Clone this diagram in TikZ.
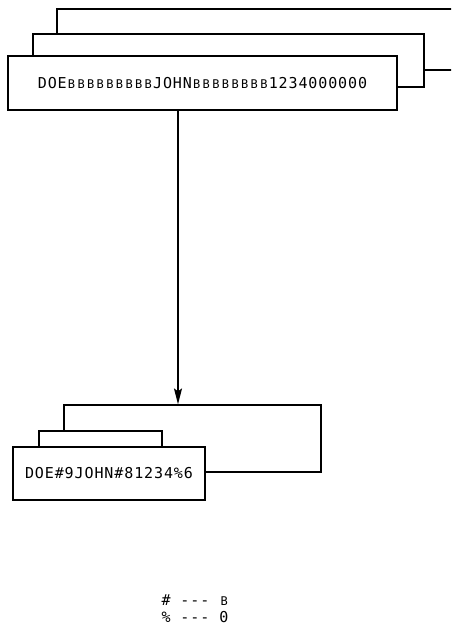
\documentclass[tikz,border=0pt]{standalone}
\usepackage{fontspec}
\newfontfamily\recfont[LetterSpace=6]{DejaVu Sans Mono}
\usetikzlibrary{arrows.meta}
\newcommand{\bb}{\makebox[9.6pt]{\fontsize{12}{12}\selectfont B}}
\tikzset{
  card/.style={draw=black, line width=1.2pt, fill=white, rectangle, inner sep=0pt},
  rectext/.style={font=\recfont\fontsize{15}{15}\selectfont},
  link/.style={draw=black, line width=1.5pt},
}
\begin{document}
\begin{tikzpicture}[x=1pt,y=-1pt]
\useasboundingbox (0,0) rectangle (451,633);
\clip (0,0) rectangle (451,633);
\fill[white] (0,0) rectangle (451,633);
% upper stacked records
\node[card, minimum width=420pt, minimum height=61pt] (u3) at (267,39.5) {};
\node[card, minimum width=391pt, minimum height=53pt] (u2) at (228.5,60.5) {};
\node[card, minimum width=389pt, minimum height=54pt, rectext] (u1) at (202.5,83)
  {DOE\bb\bb\bb\bb\bb\bb\bb\bb\bb JOHN\bb\bb\bb\bb\bb\bb\bb\bb 1234000000};
% lower stacked records
\node[card, minimum width=257pt, minimum height=67pt] (l3) at (192.5,438.5) {};
\node[card, minimum width=123pt, minimum height=40pt] (l2) at (100.5,451) {};
\node[card, minimum width=192pt, minimum height=53pt, rectext] (l1) at (109,473.5)
  {DOE\#9JOHN\#81234\%6};
% arrow
\draw[link, -{Stealth[length=16pt, width=8pt, inset=3pt]}] (178,0 |- u1.south) -- (178,0 |- l3.north);
% legend
\node[rectext, anchor=west] (k1) at (158,600) {\# --- \bb};
\node[rectext, anchor=west] (k2) at (158,617) {\% --- 0};
\end{tikzpicture}
\end{document}
